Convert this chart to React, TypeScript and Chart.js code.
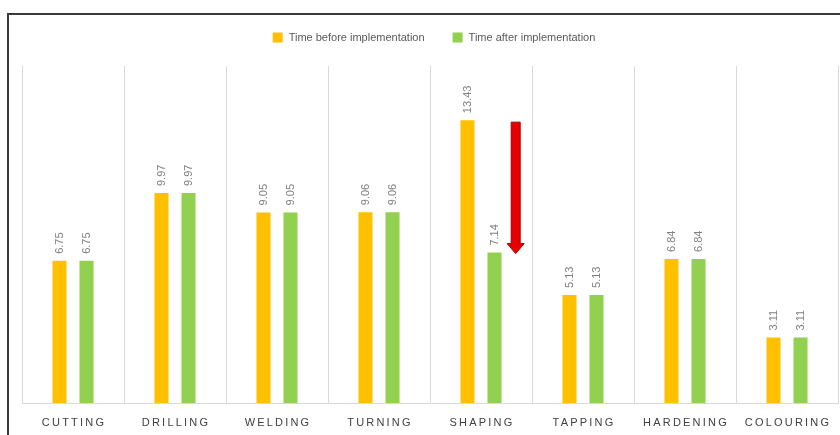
import React, { useEffect, useRef } from "react";
import { Chart, registerables } from "chart.js";

Chart.register(...registerables);

const categories = ["CUTTING", "DRILLING", "WELDING", "TURNING", "SHAPING", "TAPPING", "HARDENING", "COLOURING"];
const timeBefore = [6.75, 9.97, 9.05, 9.06, 13.43, 5.13, 6.84, 3.11];
const timeAfter = [6.75, 9.97, 9.05, 9.06, 7.14, 5.13, 6.84, 3.11];
const seriesLabels = ["Time before implementation", "Time after implementation"];
const seriesColors = ["#FFC000", "#92D050"];
const arrowCategory = "SHAPING";
const yMax = 16;

const FONT = '"Liberation Sans", Arial, sans-serif';

const overlayPlugin = {
  id: "overlay",
  afterDatasetsDraw(chart: any) {
    const ctx: CanvasRenderingContext2D = chart.ctx;
    const xs = chart.scales.x;
    const ys = chart.scales.y;
    const area = chart.chartArea;

    // value labels, rotated
    ctx.save();
    ctx.font = `11px ${FONT}`;
    ctx.fillStyle = "#808080";
    ctx.textAlign = "left";
    ctx.textBaseline = "middle";
    chart.data.datasets.forEach((ds: any, di: number) => {
      const meta = chart.getDatasetMeta(di);
      meta.data.forEach((bar: any, i: number) => {
        ctx.save();
        ctx.translate(bar.x, bar.y - 7);
        ctx.rotate(-Math.PI / 2);
        ctx.fillText(Number(ds.data[i]).toFixed(2), 0, 0);
        ctx.restore();
      });
    });
    ctx.restore();

    // red arrow
    const idx = categories.indexOf(arrowCategory);
    const cw = (area.right - area.left) / categories.length;
    const ax = xs.getPixelForValue(idx) + cw * 0.34;
    const yTop = ys.getPixelForValue(timeBefore[idx]) + 2;
    const yTip = ys.getPixelForValue(timeAfter[idx]) + 1;
    const sw = 4.5;
    const hw = 8.5;
    const hh = 10;
    ctx.save();
    ctx.beginPath();
    ctx.moveTo(ax - sw, yTop);
    ctx.lineTo(ax + sw, yTop);
    ctx.lineTo(ax + sw, yTip - hh);
    ctx.lineTo(ax + hw, yTip - hh);
    ctx.lineTo(ax, yTip);
    ctx.lineTo(ax - hw, yTip - hh);
    ctx.lineTo(ax - sw, yTip - hh);
    ctx.closePath();
    ctx.fillStyle = "#E60000";
    ctx.fill();
    ctx.strokeStyle = "#A80000";
    ctx.lineWidth = 1;
    ctx.stroke();
    ctx.restore();
  },
  afterDraw(chart: any) {
    const ctx: CanvasRenderingContext2D = chart.ctx;
    const xs = chart.scales.x;
    const area = chart.chartArea;

    // category labels with letter spacing
    ctx.save();
    ctx.font = `11px ${FONT}`;
    ctx.fillStyle = "#404040";
    ctx.textAlign = "center";
    ctx.textBaseline = "middle";
    (ctx as any).letterSpacing = "2.2px";
    categories.forEach((c, i) => {
      ctx.fillText(c, xs.getPixelForValue(i) + 1, area.bottom + 20);
    });
    ctx.restore();

    // legend
    ctx.save();
    ctx.font = `11px ${FONT}`;
    ctx.textAlign = "left";
    ctx.textBaseline = "middle";
    const box = 10;
    const gapText = 6;
    const gapItems = 28;
    const widths = seriesLabels.map((l) => box + gapText + ctx.measureText(l).width);
    const total = widths.reduce((a, b) => a + b, 0) + gapItems;
    let x = (area.left + area.right) / 2 + 4 - total / 2;
    const yc = area.top - 28.5;
    seriesLabels.forEach((l, i) => {
      ctx.fillStyle = seriesColors[i];
      ctx.fillRect(x, yc - 5, box, box);
      ctx.fillStyle = "#595959";
      ctx.fillText(l, x + box + gapText, yc);
      x += widths[i] + gapItems;
    });
    ctx.restore();
  },
};

export default function App() {
  const ref = useRef<HTMLCanvasElement | null>(null);

  useEffect(() => {
    if (!ref.current) return;
    const chart = new Chart(ref.current, {
      type: "bar",
      data: {
        labels: categories,
        datasets: [
          {
            label: seriesLabels[0],
            data: timeBefore,
            backgroundColor: seriesColors[0],
            barPercentage: 0.52,
            categoryPercentage: 0.53,
          },
          {
            label: seriesLabels[1],
            data: timeAfter,
            backgroundColor: seriesColors[1],
            barPercentage: 0.52,
            categoryPercentage: 0.53,
          },
        ],
      },
      options: {
        responsive: false,
        animation: false,
        layout: { padding: { left: 13, right: 2, top: 51, bottom: 32 } },
        plugins: {
          legend: { display: false },
          tooltip: { enabled: false },
        },
        scales: {
          x: {
            grid: { color: "#d9d9d9", drawTicks: false, offset: true },
            border: { color: "#d9d9d9" },
            ticks: { display: false },
          },
          y: { display: false, min: 0, max: yMax },
        },
      },
      plugins: [overlayPlugin],
    });
    return () => chart.destroy();
  }, []);

  return (
    <div
      style={{
        position: "absolute",
        left: 7,
        top: 13,
        width: 831,
        height: 420,
        borderTop: "2px solid #3a3a3a",
        borderLeft: "2px solid #3a3a3a",
        background: "#fff",
      }}
    >
      <canvas ref={ref} width={831} height={420} style={{ display: "block" }} />
    </div>
  );
}
